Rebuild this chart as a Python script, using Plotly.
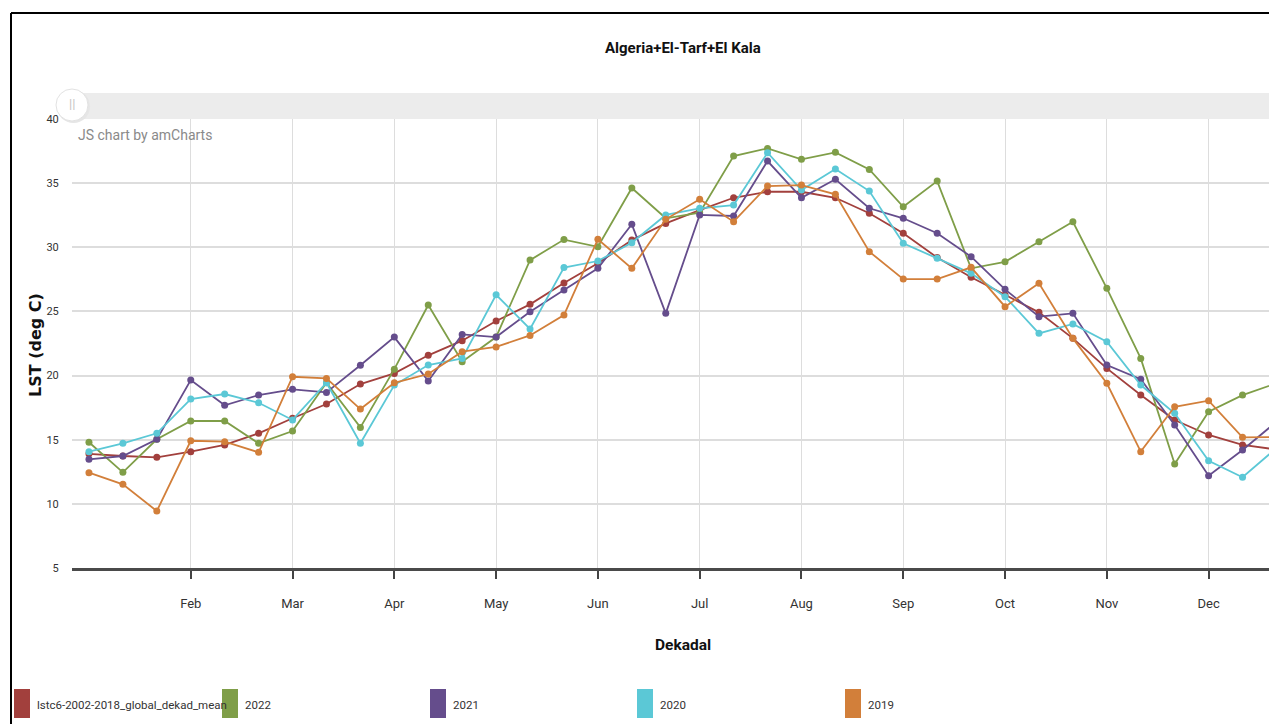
import plotly.graph_objects as go

# ---------------- data ----------------
months = ["Jan", "Feb", "Mar", "Apr", "May", "Jun", "Jul", "Aug", "Sep", "Oct", "Nov", "Dec"]
dekads = [f"{m}-{d}" for m in months for d in (1, 2, 3)]

mean_2002_2018 = [13.9, 13.73, 13.63, 14.07, 14.59, 15.5, 16.67, 17.78, 19.34, 20.17, 21.58, 22.72,
                  24.25, 25.55, 27.21, 28.75, 30.56, 31.86, 32.9, 33.86, 34.33, 34.33, 33.86, 32.65,
                  31.09, 29.2, 27.66, 26.28, 24.93, 22.9, 20.56, 18.48, 16.54, 15.37, 14.59, 14.24]
y2022 = [14.8, 12.46, 15.03, 16.46, 16.46, 14.72, 15.68, 19.44, 15.96, 20.5, 25.5, 21.08,
         23.0, 29.0, 30.6, 30.04, 34.62, 32.26, 32.7, 37.11, 37.71, 36.86, 37.4, 36.07,
         33.16, 35.16, 28.36, 28.87, 30.43, 31.99, 26.8, 21.34, 13.1, 17.18, 18.48, 19.4]
y2021 = [13.47, 13.73, 15.03, 19.65, 17.68, 18.48, 18.93, 18.69, 20.8, 23.0, 19.57, 23.21,
         23.0, 24.98, 26.67, 28.36, 31.79, 24.85, 32.52, 32.44, 36.72, 33.86, 35.3, 33.04,
         32.26, 31.09, 29.27, 26.72, 24.59, 24.85, 20.82, 19.71, 16.15, 12.2, 14.2, 16.4]
y2020 = [14.07, 14.72, 15.5, 18.17, 18.56, 17.88, 16.54, 19.44, 14.72, 19.26, 20.82, 21.34,
         26.3, 23.63, 28.42, 28.93, 30.36, 32.52, 33.04, 33.29, 37.37, 34.46, 36.1, 34.38,
         30.31, 29.14, 27.97, 26.15, 23.29, 24.02, 22.64, 19.26, 17.06, 13.36, 12.07, 14.35]
y2019 = [12.43, 11.52, 9.44, 14.92, 14.85, 14.02, 19.91, 19.78, 17.39, 19.44, 20.12, 21.86,
         22.23, 23.13, 24.72, 30.62, 28.36, 32.18, 33.74, 32.0, 34.77, 34.85, 34.13, 29.66,
         27.52, 27.52, 28.44, 25.37, 27.19, 22.9, 19.4, 14.07, 17.57, 18.04, 15.19, 15.2]

series_names = ["lstc6-2002-2018_global_dekad_mean", "2022", "2021", "2020", "2019"]
series_values = [mean_2002_2018, y2022, y2021, y2020, y2019]
series_colors = ["#a2403d", "#7f9e48", "#654d8c", "#5bc8d6", "#d27f3a"]

tick_dekads = [f"{m}-1" for m in months[1:]]
tick_labels = months[1:]

# ---------------- geometry ----------------
W, H = 1269, 724
L, R, T, B = 72, 0, 119, 156
PW, PH = W - L - R, H - T - B

def px(x):
    return (x - L) / PW

def py(y):
    return (H - B - y) / PH

FONT = "Roboto, Open Sans, sans-serif"

fig = go.Figure()
for name, vals, col in zip(series_names, series_values, series_colors):
    fig.add_trace(go.Scatter(
        x=dekads, y=vals, name=name, mode="lines+markers",
        line=dict(color=col, width=1.8),
        marker=dict(color=col, size=7),
        showlegend=False,
    ))

shapes = []
annotations = []

# scrollbar band + grip
shapes.append(dict(type="rect", xref="paper", yref="paper", x0=px(72), x1=px(1269), y0=py(119), y1=py(93),
                   fillcolor="#ececec", line=dict(width=0), layer="above"))
shapes.append(dict(type="circle", xref="paper", yref="paper", x0=px(57), x1=px(90), y0=py(123), y1=py(90),
                   fillcolor="#e6e6e6", line=dict(width=0), layer="above"))
shapes.append(dict(type="circle", xref="paper", yref="paper", x0=px(56), x1=px(88), y0=py(121), y1=py(89),
                   fillcolor="#ffffff", line=dict(color="#e2e2e2", width=1), layer="above"))
annotations.append(dict(text="||", xref="paper", yref="paper", x=px(72), y=py(104), showarrow=False,
                        xanchor="center", yanchor="middle",
                        font=dict(family=FONT, size=13, color="#c4c4c4")))
annotations.append(dict(text="JS chart by amCharts", xref="paper", yref="paper", x=px(76), y=py(135),
                        xanchor="left", yanchor="middle", showarrow=False,
                        font=dict(family=FONT, size=14, color="#8a8a8a")))

# frame
shapes.append(dict(type="line", xref="paper", yref="paper", x0=px(11), x1=px(11), y0=py(13), y1=py(724),
                   line=dict(color="#000", width=2)))
shapes.append(dict(type="line", xref="paper", yref="paper", x0=px(11), x1=px(1269), y0=py(13), y1=py(13),
                   line=dict(color="#000", width=2)))

# legend
leg_x = [14, 222, 430, 637, 845]
for name, col, lx in zip(series_names, series_colors, leg_x):
    shapes.append(dict(type="rect", xref="paper", yref="paper", x0=px(lx), x1=px(lx + 16), y0=py(718), y1=py(689),
                       fillcolor=col, line=dict(width=0)))
    annotations.append(dict(text=name, xref="paper", yref="paper", x=px(lx + 21), y=py(705),
                            xanchor="left", yanchor="middle", showarrow=False,
                            font=dict(family=FONT, size=11.5, color="#333")))

# titles
annotations.append(dict(text="<b>Algeria+El-Tarf+El Kala</b>", xref="paper", yref="paper", x=px(683), y=py(48),
                        showarrow=False, xanchor="center", yanchor="middle",
                        font=dict(family=FONT, size=15, color="#111")))
annotations.append(dict(text="<b>Dekadal</b>", xref="paper", yref="paper", x=px(683), y=py(645),
                        showarrow=False, xanchor="center", yanchor="middle",
                        font=dict(family=FONT, size=15.5, color="#111")))
annotations.append(dict(text="<b>LST (deg C)</b>", xref="paper", yref="paper", x=px(35), y=py(345),
                        showarrow=False, textangle=-90, xanchor="center", yanchor="middle",
                        font=dict(family="DejaVu Sans, Verdana, sans-serif", size=16, color="#111")))

fig.update_layout(
    width=W, height=H,
    margin=dict(l=L, r=R, t=T, b=B, pad=0),
    paper_bgcolor="white", plot_bgcolor="white",
    font=dict(family=FONT, size=12, color="#333"),
    shapes=shapes, annotations=annotations,
    showlegend=False,
    xaxis=dict(
        type="category", categoryorder="array", categoryarray=dekads,
        range=[-0.5, 34.78],
        tickmode="array", tickvals=tick_dekads, ticktext=tick_labels,
        showgrid=True, gridcolor="#dddddd", gridwidth=1.2,
        ticks="outside", ticklen=8, tickcolor="#444", tickwidth=1.5,
        showline=True, linecolor="#4a4a4a", linewidth=2.5,
        ticklabelstandoff=14,
        tickfont=dict(family=FONT, size=13, color="#333"),
        zeroline=False, fixedrange=True,
    ),
    yaxis=dict(
        range=[5, 40], dtick=5, tick0=5,
        showgrid=True, gridcolor="#dddddd", gridwidth=1.5,
        ticks="outside", ticklen=10, tickcolor="rgba(0,0,0,0)",
        showline=False, zeroline=False,
        tickfont=dict(family=FONT, size=11, color="#333"),
        fixedrange=True,
    ),
)

fig.write_html("out.html")
